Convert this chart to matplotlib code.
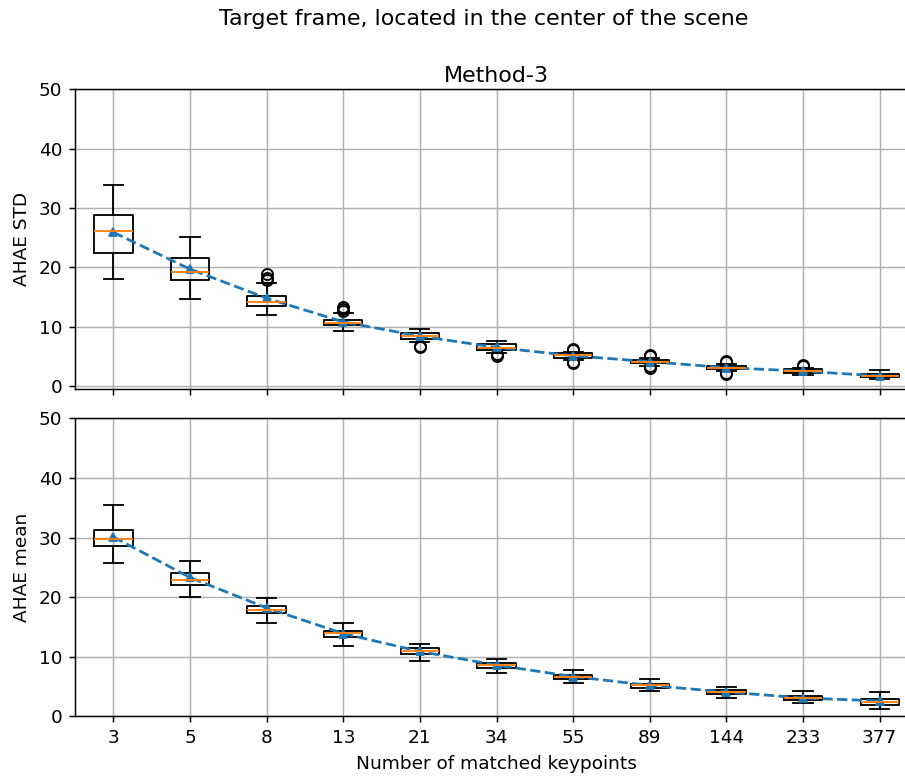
import matplotlib
matplotlib.use("Agg")
import matplotlib.pyplot as plt

# x categories
keypoints = ["3", "5", "8", "13", "21", "34", "55", "89", "144", "233", "377"]

# AHAE STD boxes
std_whislo = [18.1, 14.7, 12.0, 9.3, 7.4, 5.6, 4.4, 3.4, 2.5, 1.8, 1.2]
std_q1 = [22.5, 17.8, 13.5, 10.2, 8.0, 6.0, 4.8, 3.8, 2.8, 2.2, 1.45]
std_med = [26.1, 19.2, 14.2, 10.7, 8.4, 6.45, 5.2, 4.1, 3.1, 2.5, 1.7]
std_q3 = [28.8, 21.6, 15.2, 11.1, 8.9, 7.0, 5.5, 4.4, 3.4, 2.8, 2.1]
std_whishi = [33.8, 25.1, 17.4, 12.3, 9.6, 7.6, 5.8, 4.7, 3.7, 3.1, 2.7]
std_fliers = [[], [], [17.8, 18.2, 18.8], [12.6, 13.0, 13.4], [6.6, 6.8],
              [5.0, 5.2, 5.4], [6.0, 6.3, 3.8, 4.0], [5.0, 5.3, 3.0, 3.3],
              [4.0, 4.3, 2.0, 2.2], [3.4, 3.6], []]
std_mean = [25.9, 19.7, 14.8, 10.8, 8.4, 6.5, 5.1, 4.1, 3.1, 2.5, 1.7]

# AHAE mean boxes
avg_whislo = [25.8, 20.0, 15.6, 11.8, 9.3, 7.3, 5.6, 4.2, 3.1, 2.2, 1.3]
avg_q1 = [28.6, 22.0, 17.3, 13.3, 10.4, 8.2, 6.3, 4.8, 3.7, 2.8, 2.0]
avg_med = [29.8, 22.9, 17.8, 14.0, 10.9, 8.7, 6.7, 5.2, 4.1, 3.1, 2.4]
avg_q3 = [31.3, 24.0, 18.6, 14.4, 11.4, 9.0, 7.0, 5.5, 4.4, 3.4, 2.85]
avg_whishi = [35.4, 26.0, 19.9, 15.7, 12.2, 9.6, 7.8, 6.3, 4.9, 4.2, 4.1]
avg_mean = [30.1, 23.3, 18.2, 13.9, 10.9, 8.6, 6.7, 5.2, 4.1, 3.1, 2.6]


def make_stats(lo, q1, med, q3, hi, fl=None):
    stats = []
    for i in range(len(lo)):
        stats.append(dict(whislo=lo[i], q1=q1[i], med=med[i], q3=q3[i],
                          whishi=hi[i], fliers=fl[i] if fl else []))
    return stats


DPI = 133
fig = plt.figure(figsize=(905 / DPI, 778 / DPI), dpi=DPI)
ax1 = fig.add_axes([0.0829, 0.5004, 0.9315, 0.3848])
ax2 = fig.add_axes([0.0829, 0.0791, 0.9315, 0.3833], sharex=ax1)

pos = list(range(1, len(keypoints) + 1))

ax1.bxp(make_stats(std_whislo, std_q1, std_med, std_q3, std_whishi, std_fliers),
        positions=pos)
ax1.plot(pos, std_mean, "--^", color="C0", markersize=4)
ax1.set_ylim(-0.45, 50)
ax1.set_ylabel("AHAE STD")
ax1.set_title("Method-3", pad=4)
ax1.grid(True)
ax1.tick_params(labelbottom=False)

ax2.bxp(make_stats(avg_whislo, avg_q1, avg_med, avg_q3, avg_whishi), positions=pos)
ax2.plot(pos, avg_mean, "--^", color="C0", markersize=4)
ax2.set_ylim(0, 50)
ax2.set_ylabel("AHAE mean")
ax2.set_xticks(pos)
ax2.set_xticklabels(keypoints)
ax2.set_xlim(0.5, len(keypoints) + 0.5)
ax2.set_xlabel("Number of matched keypoints")
ax2.grid(True)

fig.suptitle("Target frame, located in the center of the scene", x=0.534, y=0.9887)
fig.savefig("out.png", dpi=DPI)
